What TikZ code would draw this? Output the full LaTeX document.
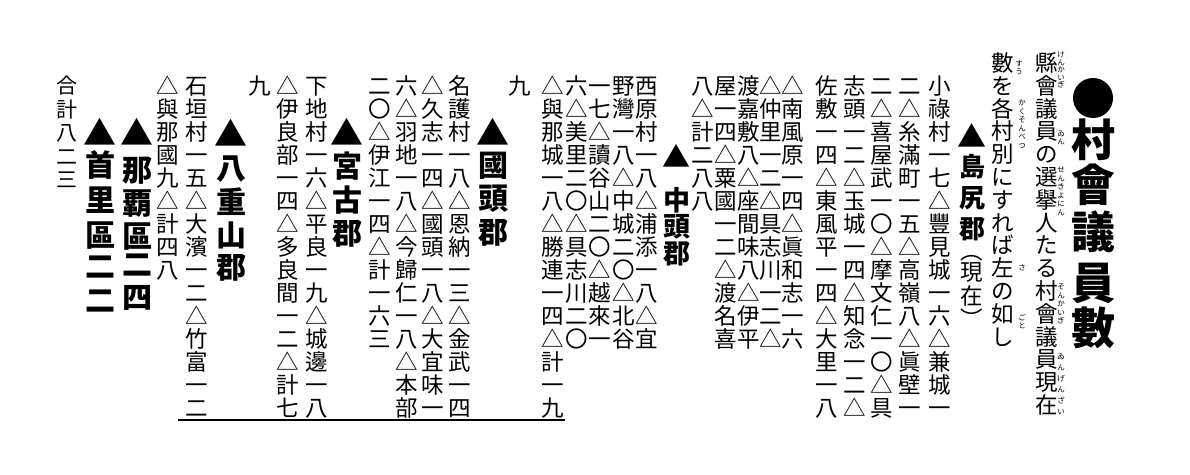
\documentclass[tikz,border=0pt]{standalone}
\usepackage{fontspec}
\newfontfamily\jp{Noto Sans CJK JP}
\newcounter{chn}
\tikzset{
  cj/.style={font=\jp\fontsize{#1}{#1}\selectfont, inner sep=0pt, anchor=base, yshift=-0.38*#1},
  cjb/.style={font=\jp\bfseries\fontsize{#1}{#1}\selectfont, inner sep=0pt, anchor=base, yshift=-0.38*#1},
  tri/.style={cjb=33},
  rulestyle/.style={line width=1.6pt, black}
}
\newcommand\vcol[5]{%
  \def\vX{#1}\def\vY{#2}\def\vP{#3}%
  \tikzset{vcur/.style={#4}}%
  \vloop#5\relax}
\def\vloop#1{%
  \ifx\relax#1\else
    \stepcounter{chn}%
    \node[vcur] (ch\arabic{chn}) at (\vX,\vY) {#1};%
    \pgfmathsetmacro\vY{\vY+\vP}%
    \expandafter\vloop
  \fi}
\begin{document}
\begin{tikzpicture}[x=1pt,y=-1pt]
\path[use as bounding box, fill=white] (0,0) rectangle (1190,474);
% title
\node[circle, fill=black, minimum size=40pt, inner sep=0pt] (dot) at (1093,98) {};
\node[cjb=44] (t1) at (1093,140) {村};
\node[cjb=44] (t2) at (1093,185) {會};
\node[cjb=44] (t3) at (1093,232) {議};
\node[cjb=44] (t4) at (1093,283) {員};
\node[cjb=44] (t5) at (1093,328) {數};
% lead text
\vcol{1047}{63}{22.8}{cj=22.5}{縣會議員の選擧人たる村會議員現在}
\vcol{1003}{63}{22.8}{cj=22.5}{數を各村別にすれば左の如し}
% ruby
\vcol{1061}{55}{7.5}{cj=7.5}{けんかいぎ}
\vcol{1061}{134}{8}{cj=7.5}{ゐん}
\vcol{1061}{170}{8.5}{cj=7.5}{せんきよにん}
\vcol{1061}{287}{8.5}{cj=7.5}{そんかいぎ}
\vcol{1061}{357}{11}{cj=7.5}{ゐんげんざい}
\vcol{1019}{64}{8}{cj=7.5}{すう}
\vcol{1022}{103}{8.5}{cj=7.5}{かくそんべつ}
\node[cj=7.5] (rsa) at (1022,268) {さ};
\vcol{1022}{318}{8}{cj=7.5}{ごと}
% Shimajiri
\node[cjb=29] (h0a) at (972,136) {▲};
\vcol{972}{167}{31}{cjb=26}{島尻郡}
\node[cj=22.5] (po) at (972,251) {︵};
\node[cj=22.5] (g1) at (972,272) {現};
\node[cj=22.5] (g2) at (972,296) {在};
\node[cj=22.5] (pc) at (972,319) {︶};
\vcol{940}{86}{23}{cj=22.5}{小祿村一七△豐見城一六△兼城一}
\vcol{910}{86}{23}{cj=22.5}{二△糸滿町一五△高嶺八△眞壁一}
\vcol{882}{86}{23}{cj=22.5}{二△喜屋武一〇△摩文仁一〇△具}
\vcol{855}{86}{23}{cj=22.5}{志頭一二△玉城一四△知念一二△}
\vcol{827}{86}{23}{cj=22.5}{佐敷一四△東風平一四△大里一八}
\vcol{793}{86}{23}{cj=22.5}{△南風原一四△眞和志一六}
\vcol{771}{86}{23}{cj=22.5}{△仲里一二△具志川一二△}
\vcol{749}{86}{23}{cj=22.5}{渡嘉敷八△座間味八△伊平}
\vcol{726}{86}{23}{cj=22.5}{屋一四△粟國一二△渡名喜}
\vcol{703}{86}{23}{cj=22.5}{八△計二八八}
% Nakagami
\node[cjb=28] (h1a) at (676,157) {▲};
\node[cjb=27] (h1b) at (677,200) {中};
\node[cjb=27] (h1c) at (677,226) {頭};
\node[cjb=27] (h1d) at (677,253) {郡};
\vcol{647}{86}{23}{cj=22.5}{西原村一八△浦添一八△宜}
\vcol{624}{86}{23}{cj=22.5}{野灣一八△中城二〇△北谷}
\vcol{600}{86}{23}{cj=22.5}{一七△讀谷山二〇△越來一}
\vcol{577}{86}{23}{cj=22.5}{六△美里二〇△具志川二〇}
\vcol{553}{86}{23}{cj=22.5}{△與那城一八△勝連一四△計一九}
\node[cj=22.5] (k1) at (520,86) {九};
% Kunigami
\node[tri] (h2a) at (493,133) {▲};
\node[cjb=30] (h2b) at (493,165) {國};
\node[cjb=30] (h2c) at (493,198) {頭};
\node[cjb=30] (h2d) at (493,232) {郡};
\vcol{460}{86}{23}{cj=22.5}{名護村一八△恩納一三△金武一四}
\vcol{433}{86}{23}{cj=22.5}{△久志一四△國頭一八△大宜味一}
\vcol{407}{86}{23}{cj=22.5}{六△羽地一八△今歸仁一八△本部}
\vcol{380}{86}{23}{cj=22.5}{二〇△伊江一四△計一六三}
% Miyako
\node[tri] (h3a) at (347,133) {▲};
\node[cjb=30] (h3b) at (347,166) {宮};
\node[cjb=30] (h3c) at (347,200) {古};
\node[cjb=30] (h3d) at (347,233) {郡};
\vcol{317}{86}{23}{cj=22.5}{下地村一六△平良一九△城邊一八}
\vcol{288}{86}{23}{cj=22.5}{△伊良部一四△多良間一二△計七}
\node[cj=22.5] (k2) at (260,86) {九};
% Yaeyama
\node[tri] (h4a) at (231,134) {▲};
\node[cjb=30] (h4b) at (231,168) {八};
\node[cjb=30] (h4c) at (231,202) {重};
\node[cjb=30] (h4d) at (231,235) {山};
\node[cjb=30] (h4e) at (231,267) {郡};
\vcol{197}{86}{23}{cj=22.5}{石垣村一五△大濱一二△竹富一二}
\vcol{168}{86}{23}{cj=22.5}{△與那國九△計四八}
% Naha
\node[tri] (h5a) at (137,133) {▲};
\node[cjb=30] (h5b) at (137,170) {那};
\node[cjb=30] (h5c) at (137,203) {覇};
\node[cjb=30] (h5d) at (137,236) {區};
\node[cjb=30] (h5e) at (137,264) {二};
\node[cjb=30] (h5f) at (137,297) {四};
% Shuri
\node[tri] (h6a) at (100,133) {▲};
\node[cjb=30] (h6b) at (100,165) {首};
\node[cjb=30] (h6c) at (100,200) {里};
\node[cjb=30] (h6d) at (100,235) {區};
\node[cjb=30] (h6e) at (100,266) {二};
\node[cjb=30] (h6f) at (100,300) {二};
% total
\vcol{67}{86}{23.5}{cj=21}{合計八二三}
% rule
\coordinate (r1) at (178,420);
\coordinate (r2) at (565,420);
\draw[rulestyle] (r1) -- (r2);
\end{tikzpicture}
\end{document}
